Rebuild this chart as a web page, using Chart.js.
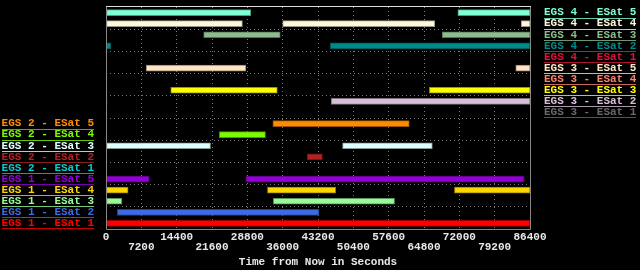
<!DOCTYPE html>
<html>
<head>
<meta charset="utf-8">
<script src="https://cdn.jsdelivr.net/npm/chart.js@4"></script>
<style>
  html, body { margin: 0; padding: 0; background: #000; }
  #wrap { width: 640px; height: 270px; }
</style>
</head>
<body>
<div id="wrap"><canvas id="passes"></canvas></div>
<script>
// rows, top to bottom
const rowLabels = [
  "EGS 4 - ESat 5", "EGS 4 - ESat 4", "EGS 4 - ESat 3", "EGS 4 - ESat 2", "EGS 4 - ESat 1",
  "EGS 3 - ESat 5", "EGS 3 - ESat 4", "EGS 3 - ESat 3", "EGS 3 - ESat 2", "EGS 3 - ESat 1",
  "EGS 2 - ESat 5", "EGS 2 - ESat 4", "EGS 2 - ESat 3", "EGS 2 - ESat 2", "EGS 2 - ESat 1",
  "EGS 1 - ESat 5", "EGS 1 - ESat 4", "EGS 1 - ESat 3", "EGS 1 - ESat 2", "EGS 1 - ESat 1",
];

const rowColors = [
  "#7fffd4", "#fff8dc", "#8fbc8f", "#008b8b", "#dc143c",
  "#ffe4c4", "#fa8072", "#ffff00", "#d8bfd8", "#696969",
  "#ff8c00", "#7cfc00", "#e0ffff", "#b22222", "#00ced1",
  "#9400d3", "#ffd700", "#98fb98", "#4169e1", "#ff0000",
];

// visibility windows in seconds from now, one list per row
const windows = [
  [[0, 29500], [71700, 86400]],
  [[0, 27800], [36000, 67000], [84600, 86400]],
  [[19900, 35500], [68500, 86400]],
  [[0, 1000], [45700, 86400]],
  [],
  [[8200, 28500], [83500, 86400]],
  [],
  [[13200, 34900], [65900, 86400]],
  [[0, 200], [45900, 86400]],
  [],
  [[34000, 61800]],
  [[23100, 32500]],
  [[0, 21300], [48200, 66500]],
  [[41000, 44100]],
  [],
  [[0, 8800], [28500, 85200]],
  [[0, 4500], [32900, 46800], [71000, 86400]],
  [[0, 3200], [34100, 58800]],
  [[2300, 43400]],
  [[0, 86400]],
];

const X_MAX = 86400;
const X_STEP = 7200;
const FONT = { family: "Liberation Mono", size: 11, weight: "bold" };

function shade(hex, f) {
  const n = parseInt(hex.slice(1), 16);
  const r = Math.round(((n >> 16) & 255) * f);
  const g = Math.round(((n >> 8) & 255) * f);
  const b = Math.round((n & 255) * f);
  return `rgb(${r},${g},${b})`;
}

const datasets = rowLabels.map((label, i) => ({
  label,
  data: windows[i].map((w) => ({ y: label, x: w })),
  backgroundColor: rowColors[i],
  borderColor: shade(rowColors[i], 0.6),
  borderWidth: 1,
  borderSkipped: false,
  barThickness: 6,
  grouped: false,
}));

// frame round the plot plus underlines under the row labels
const decorations = {
  id: "decorations",
  afterDraw(chart) {
    const { ctx, chartArea: a } = chart;
    ctx.save();
    ctx.font = `${FONT.weight} ${FONT.size}px ${FONT.family}`;
    for (const id of ["y", "y2"]) {
      const scale = chart.scales[id];
      rowLabels.forEach((label, i) => {
        const show = id === "y" ? i >= 10 : i < 10;
        if (!show) return;
        const w = ctx.measureText(label).width;
        const yc = Math.round(scale.getPixelForTick(i)) + 5;
        const x0 = id === "y" ? a.left - 12 - w : a.right + 14;
        ctx.fillStyle = rowColors[i];
        ctx.globalAlpha = 0.8;
        ctx.fillRect(Math.round(x0), yc, Math.round(w), 1);
      });
    }
    ctx.globalAlpha = 1;
    ctx.lineWidth = 1;
    ctx.strokeStyle = "#888";
    ctx.beginPath();
    ctx.moveTo(a.left + 0.5, a.top);
    ctx.lineTo(a.left + 0.5, a.bottom + 0.5);
    ctx.lineTo(a.right + 0.5, a.bottom + 0.5);
    ctx.lineTo(a.right + 0.5, a.top);
    ctx.stroke();
    ctx.strokeStyle = "#ddd";
    ctx.beginPath();
    ctx.moveTo(a.left, a.top - 0.5);
    ctx.lineTo(a.right + 1, a.top - 0.5);
    ctx.stroke();
    ctx.restore();
  },
};

Chart.defaults.font = { ...Chart.defaults.font, ...FONT };
Chart.defaults.color = "#e8e8e8";

function noPad(s) {
  s.paddingTop = 0;
  s.paddingBottom = 0;
}

new Chart(document.getElementById("passes"), {
  type: "bar",
  data: { labels: rowLabels, datasets },
  plugins: [decorations],
  options: {
    indexAxis: "y",
    responsive: true,
    maintainAspectRatio: false,
    animation: false,
    layout: { padding: { top: 7, bottom: 1 } },
    plugins: { legend: { display: false }, tooltip: { enabled: false } },
    scales: {
      x: {
        type: "linear",
        min: 0,
        max: X_MAX,
        afterFit: (s) => { s.height = 40; },
        ticks: {
          stepSize: X_STEP,
          autoSkip: false,
          maxRotation: 0,
          padding: 3,
          color: "#e8e8e8",
          font: { ...FONT, lineHeight: 0.95 },
          callback: (v, i) => (i % 2 === 0 ? [String(v), ""] : ["", String(v)]),
        },
        grid: { color: "#7a7a7a", drawTicks: false },
        border: { display: false, dash: [1, 3] },
        title: { display: true, text: "Time from Now in Seconds", color: "#e8e8e8", font: FONT, padding: 0 },
      },
      y: {
        type: "category",
        position: "left",
        offset: true,
        afterFit: (s) => { s.width = 106; noPad(s); },
        ticks: {
          autoSkip: false,
          padding: 12,
          color: (c) => rowColors[c.index],
          callback: (v, i) => (i >= 10 ? rowLabels[i] : ""),
        },
        grid: {
          offset: true,
          drawTicks: false,
          color: (c) => (c.index % 2 === 0 && c.index > 0 ? "#7a7a7a" : "rgba(0,0,0,0)"),
        },
        border: { display: false, dash: [1, 3] },
      },
      y2: {
        type: "category",
        position: "right",
        labels: rowLabels,
        offset: true,
        afterFit: (s) => { s.width = 110; noPad(s); },
        ticks: {
          autoSkip: false,
          padding: 14,
          color: (c) => rowColors[c.index],
          callback: (v, i) => (i < 10 ? rowLabels[i] : ""),
        },
        grid: { display: false, drawTicks: false },
        border: { display: false },
      },
    },
  },
});
</script>
</body>
</html>
